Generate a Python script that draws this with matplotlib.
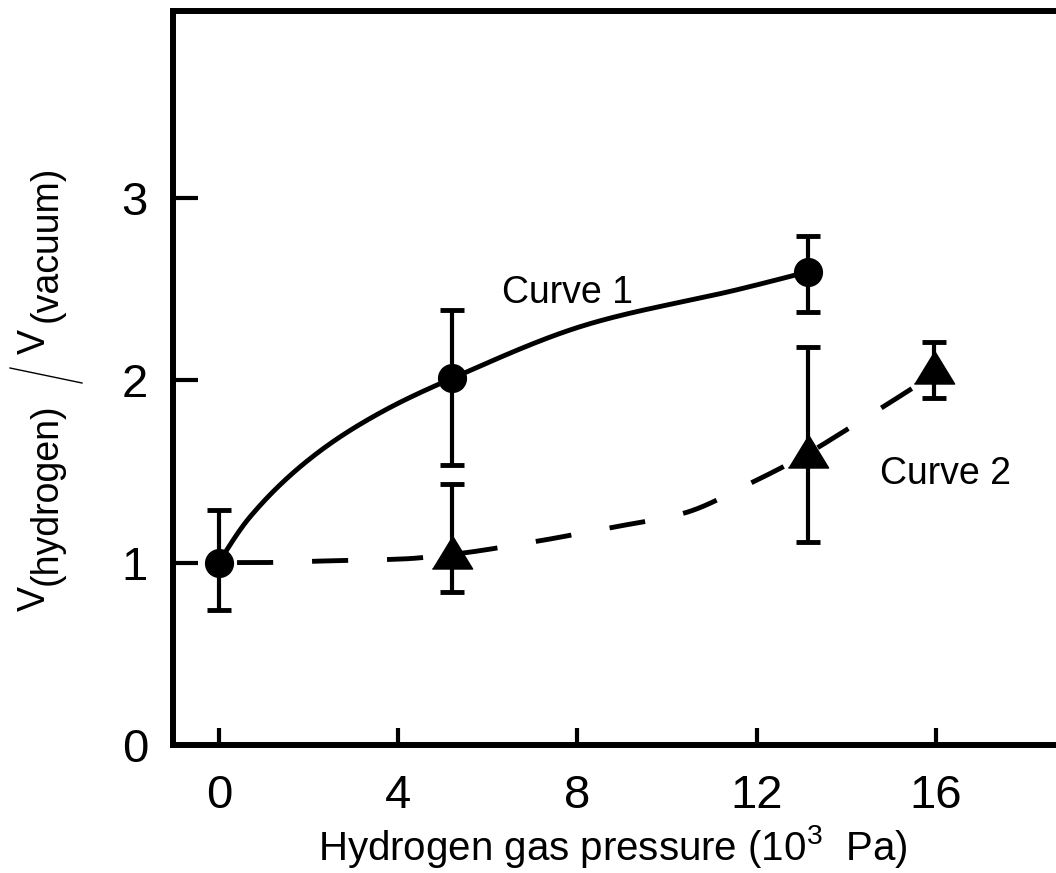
import matplotlib
matplotlib.use("Agg")
import numpy as np
import matplotlib.pyplot as plt
from matplotlib.lines import Line2D

plt.rcParams['font.family'] = ['Liberation Sans', 'DejaVu Sans']
plt.rcParams['mathtext.fontset'] = 'custom'
plt.rcParams['mathtext.rm'] = 'Liberation Sans'
plt.rcParams['mathtext.it'] = 'Liberation Sans'
plt.rcParams['lines.scale_dashes'] = False

# ---- data ----
x_ticks = [0, 4, 8, 12, 16]
y_ticks = [0, 1, 2, 3]

# Curve 1 (circles)
c1_x = [0.0, 5.2, 13.15]
c1_y = [1.0, 2.01, 2.595]
c1_lo = [0.74, 1.535, 2.375]
c1_hi = [1.29, 2.385, 2.79]

# Curve 2 (triangles)
c2_x = [5.2, 13.15, 15.95]
c2_y = [1.06, 1.61, 2.07]
c2_lo = [0.84, 1.115, 1.90]
c2_hi = [1.43, 2.18, 2.21]

# guide lines
g1_x = [0.0, 0.69, 2.19, 3.66, 5.2, 8.28, 11.63, 13.15]
g1_y = [1.0, 1.25, 1.60, 1.83, 2.01, 2.31, 2.50, 2.595]
g2_x = [0.0, 0.8, 2.5, 4.1, 5.2, 7.05, 8.7, 10.36, 11.9, 13.15, 14.08, 15.5]
g2_y = [1.0, 1.0, 1.01, 1.02, 1.045, 1.115, 1.19, 1.27, 1.44, 1.60, 1.74, 1.96]


def smooth(xs, ys, n=40):
    """Monotone piecewise-cubic (Fritsch-Carlson) through the points; drawing aid only."""
    x = np.asarray(xs, float)
    y = np.asarray(ys, float)
    h = np.diff(x)
    dl = np.diff(y) / h
    d = np.zeros_like(x)
    for k in range(1, len(x) - 1):
        if dl[k - 1] * dl[k] > 0:
            w1 = 2 * h[k] + h[k - 1]
            w2 = h[k] + 2 * h[k - 1]
            d[k] = (w1 + w2) / (w1 / dl[k - 1] + w2 / dl[k])

    def end(h0, h1, m0, m1):
        v = ((2 * h0 + h1) * m0 - h0 * m1) / (h0 + h1)
        if np.sign(v) != np.sign(m0):
            v = 0.0
        elif np.sign(m0) != np.sign(m1) and abs(v) > 3 * abs(m0):
            v = 3 * m0
        return v

    d[0] = end(h[0], h[1], dl[0], dl[1])
    d[-1] = end(h[-1], h[-2], dl[-1], dl[-2])
    px, py = [x[0]], [y[0]]
    for k in range(len(x) - 1):
        t = np.linspace(0, 1, n)[1:]
        h00 = 2 * t**3 - 3 * t**2 + 1
        h10 = t**3 - 2 * t**2 + t
        h01 = -2 * t**3 + 3 * t**2
        h11 = t**3 - t**2
        px.extend(x[k] + t * h[k])
        py.extend(h00 * y[k] + h10 * h[k] * d[k] + h01 * y[k + 1] + h11 * h[k] * d[k + 1])
    return np.array(px), np.array(py)


W, H = 1056, 873
fig = plt.figure(figsize=(W / 100, H / 100), dpi=100)

def fx(px):
    return px / W

def fy(py):
    return 1 - py / H

ax_left, ax_bottom, ax_top = 173, 745, 10.5
ax = fig.add_axes([fx(ax_left), fy(ax_bottom), 1 - fx(ax_left), (ax_bottom - ax_top) / H])
ax.set_xlim(-1.027, 18.68)
ax.set_ylim(0, 4.027)

for s in ['left', 'top', 'bottom']:
    ax.spines[s].set_linewidth(4.3)
    ax.spines[s].set_capstyle('projecting')
ax.spines['right'].set_visible(False)

ax.set_xticks(x_ticks)
ax.set_yticks(y_ticks)
ax.set_xticklabels([str(v) for v in x_ticks])
ax.set_yticklabels([str(v) for v in y_ticks])
ax.tick_params(axis='x', direction='in', length=12, width=3, pad=21, labelsize=34)
ax.tick_params(axis='y', direction='in', length=18, width=3, pad=18, labelsize=34)

# guide curves
sx1, sy1 = smooth(g1_x, g1_y)
sx2, sy2 = smooth(g2_x, g2_y)
ax.plot(sx1, sy1, color='black', lw=3.5, solid_capstyle='butt', zorder=2)
ax.plot(sx2, sy2, color='black', lw=3.5, linestyle=(41, (26, 28)),
        dash_capstyle='butt', zorder=2)

# error bars and markers
ax.errorbar(c1_x, c1_y,
            yerr=[[y - l for y, l in zip(c1_y, c1_lo)], [h - y for y, h in zip(c1_y, c1_hi)]],
            fmt='o', color='black', ms=20, elinewidth=3, capsize=8.6, capthick=3.5, zorder=3)
tri = [(-1, -0.82), (1, -0.82), (0, 0.82)]
ax.errorbar(c2_x, c2_y,
            yerr=[[y - l for y, l in zip(c2_y, c2_lo)], [h - y for y, h in zip(c2_y, c2_hi)]],
            fmt='none', ecolor='black', elinewidth=3, capsize=8.6, capthick=3.5, zorder=3)
ax.plot(c2_x, c2_y, linestyle='none', marker=tri, ms=29, color='black', zorder=4)

# curve labels
fig.text(fx(502), fy(303), 'Curve 1', fontsize=27, ha='left', va='baseline')
fig.text(fx(880), fy(484), 'Curve 2', fontsize=27, ha='left', va='baseline')

# x label
fig.text(fx(613), fy(860), r'Hydrogen gas pressure (10$^{\mathrm{3}}$  Pa)', fontsize=29,
         ha='center', va='baseline')

# y label composed of pieces
kw = dict(fontsize=27, rotation=90, rotation_mode='anchor', ha='left', va='baseline')
fig.text(fx(45), fy(611), 'V', **kw)
fig.text(fx(57), fy(585), '(hydrogen)', **kw)
fig.text(fx(45), fy(354), 'V', **kw)
fig.text(fx(57), fy(322), '(vacuum)', **kw)
fig.add_artist(Line2D([fx(82), fx(10)], [fy(383), fy(368)], transform=fig.transFigure,
                      color='black', lw=1.0))

fig.savefig('out.png', dpi=100)
